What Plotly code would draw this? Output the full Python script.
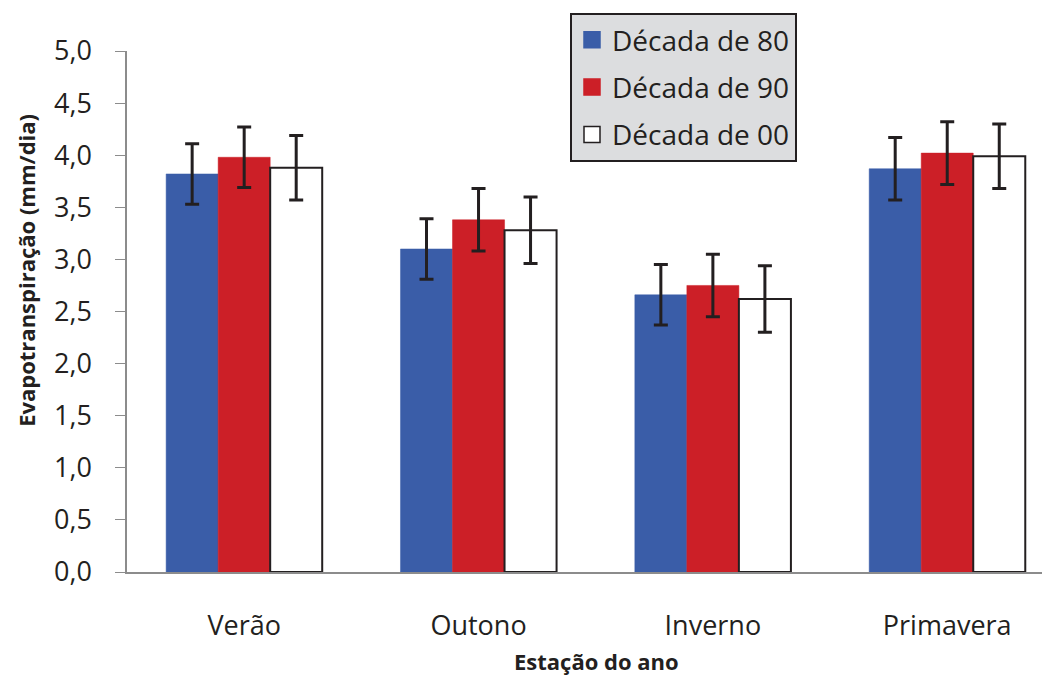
import plotly.graph_objects as go

categories = ["Verão", "Outono", "Inverno", "Primavera"]
series_names = ["Década de 80", "Década de 90", "Década de 00"]
dec80 = [3.82, 3.10, 2.66, 3.87]
dec90 = [3.98, 3.38, 2.75, 4.02]
dec00 = [3.88, 3.28, 2.62, 3.99]
err80 = [0.29, 0.29, 0.29, 0.30]
err90 = [0.29, 0.30, 0.30, 0.30]
err00 = [0.31, 0.32, 0.32, 0.31]
y_ticks = [0, 0.5, 1.0, 1.5, 2.0, 2.5, 3.0, 3.5, 4.0, 4.5, 5.0]
y_tick_labels = ["0,0", "0,5", "1,0", "1,5", "2,0", "2,5", "3,0", "3,5", "4,0", "4,5", "5,0"]
y_title = "Evapotranspiração (mm/dia)"
x_title = "Estação do ano"

FONT = "'Open Sans', sans-serif"
fills = ["#3A5DA8", "#CC1F27", "#FFFFFF"]
lines = ["#3A5DA8", "#CC1F27", "#231F20"]
lwidths = [0.5, 0.5, 2]

fig = go.Figure()
for i, (name, vals, errs) in enumerate(zip(series_names, [dec80, dec90, dec00], [err80, err90, err00])):
    fig.add_trace(go.Bar(
        x=categories, y=vals, name=name,
        marker=dict(color=fills[i], line=dict(color=lines[i], width=lwidths[i])),
        error_y=dict(type="data", array=errs, visible=True, color="#231F20", thickness=3, width=7),
        showlegend=False,
    ))
# legend-only entries with larger square swatches
for i, name in enumerate(series_names):
    fig.add_trace(go.Scatter(
        x=[categories[0]], y=[None], name=name, mode="markers",
        marker=dict(symbol="square", size=16, color=fills[i],
                    line=dict(color=lines[i] if i == 2 else fills[i], width=1.5)),
        legendgroup=name, showlegend=True, hoverinfo="skip",
    ))

# page body has an 8px default margin; compensate so plot area lands at 127..1048 x 51..572
fig.update_layout(
    width=1050, height=675,
    paper_bgcolor="white", plot_bgcolor="white",
    margin=dict(l=119, r=10, t=43, b=111, autoexpand=False),
    barmode="group", bargap=0.334, bargroupgap=0,
    font=dict(family=FONT, color="#231F20"),
    legend=dict(
        x=0.481, y=1.073, xanchor="left", yanchor="top",
        bgcolor="#DCDDDF", bordercolor="#231F20", borderwidth=2,
        font=dict(size=28, family=FONT, color="#231F20"),
        tracegroupgap=8, itemwidth=30,
    ),
    showlegend=True,
)
fig.update_yaxes(
    range=[0, 5], tickvals=y_ticks, ticktext=y_tick_labels,
    showline=True, linecolor="#8C8C8C", linewidth=1.5,
    ticks="outside", ticklen=10, tickcolor="#8C8C8C",
    showgrid=False, zeroline=False, automargin=False,
    ticklabelstandoff=18,
    tickfont=dict(size=27, family=FONT, color="#231F20"),
)
fig.update_xaxes(
    range=[-0.5, 3.43],
    showline=True, linecolor="#8C8C8C", linewidth=1.5,
    ticks="", showgrid=False, automargin=False,
    ticklabelstandoff=29,
    tickfont=dict(size=27, family=FONT, color="#231F20"),
)
fig.add_annotation(
    text="<b>" + y_title + "</b>", textangle=-90, showarrow=False,
    xref="paper", yref="paper", x=0, y=0.578, xanchor="center", yanchor="middle",
    xshift=-101, font=dict(size=22, family=FONT, color="#231F20"),
)
fig.add_annotation(
    text="<b>" + x_title + "</b>", showarrow=False,
    xref="paper", yref="paper", x=0.51, y=-0.171, xanchor="center", yanchor="middle",
    font=dict(size=22, family=FONT, color="#231F20"),
)
fig.write_html("out.html")
